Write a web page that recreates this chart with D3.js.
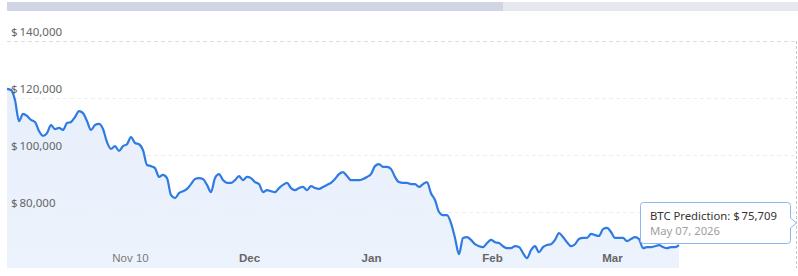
<!DOCTYPE html>
<html>
<head>
<meta charset="utf-8">
<script src="https://cdn.jsdelivr.net/npm/d3@7"></script>
<style>
  body { margin: 0; background: #fff; }
  svg { display: block; font-family: "Noto Sans", "DejaVu Sans", sans-serif; }
  .grid line { stroke: #ededed; stroke-dasharray: 4,3; }
  .grid line.top { stroke: #dcdcdc; }
  .ylabel { font-size: 11.5px; fill: #666; }
  .xaxis text { font-size: 11.5px; fill: #6a6a6a; }
</style>
</head>
<body>
<div id="chart"></div>
<script>
// BTC price, one reading per step along the chart
const prices = [
  123200, 122800, 119300, 111900, 114400, 113700, 112300, 111600, 108400, 106700,
  107700, 110500, 109100, 109500, 108800, 111200, 111600, 113300, 115400, 114700,
  111900, 108800, 110500, 110900, 109100, 104500, 102100, 103100, 101400, 103100,
  103800, 106300, 104200, 103800, 101700, 96500, 96100, 95400, 92300, 93000,
  91900, 85900, 84900, 86600, 87300, 88100, 89800, 91600, 91900, 91600,
  89500, 87000, 91900, 93300, 91200, 90200, 90200, 91200, 92600, 91200,
  92300, 91900, 90500, 89800, 87000, 87700, 87300, 87000, 88400, 89500,
  90200, 88400, 87700, 88400, 88800, 87700, 89100, 88400, 88100, 88800,
  89500, 90200, 91600, 93300, 94000, 92600, 91200, 91200, 91200, 91600,
  92300, 93300, 96100, 96800, 95800, 95800, 95100, 92300, 90500, 90200,
  90200, 89800, 89800, 88800, 89800, 90500, 86600, 84200, 80000, 78900,
  78900, 76100, 70900, 65200, 70900, 71200, 70200, 68700, 68000, 67700,
  69100, 70200, 69400, 69100, 68000, 67300, 67300, 68000, 67700, 65600,
  63800, 66600, 68000, 65900, 67700, 68400, 68700, 70200, 72600, 71200,
  69400, 68000, 68700, 70500, 70900, 70900, 72300, 71900, 71600, 74000,
  74400, 73000, 70900, 70900, 70900, 69800, 70500, 71200, 70500, 67300,
  67700, 67700, 68000, 68400, 67700, 67300, 67700, 67700, 68400
];

const xTickIndex = [30.75, 60.5, 91, 121.25, 151.25];
const xTickLabels = ["Nov 10", "Dec", "Jan", "Feb", "Mar"];
const xTickBold = [false, true, true, true, true];
const yTicks = [80000, 100000, 120000, 140000];

const tipSeries = "BTC Prediction";
const tipValue = 75709;
const tipDate = "May 07, 2026";

const width = 798, height = 276;
const plot = { left: 7, right: 796, top: 41, bottom: 268 };

const svg = d3.select("#chart").append("svg")
    .attr("width", width)
    .attr("height", height);

// navigator scrollbar
svg.append("rect").attr("x", 7).attr("y", 2).attr("width", width - 7).attr("height", 9)
    .attr("fill", "#e6e8f0");
svg.append("rect").attr("x", 7).attr("y", 2).attr("width", 496).attr("height", 9)
    .attr("fill", "#d0d4e3");

const x = d3.scaleLinear()
    .domain([0, prices.length - 1])
    .range([plot.left, 679]);

const y = d3.scaleLinear()
    .domain([60000, 140000])
    .range([269, plot.top]);

const money = v => "$\u2009" + d3.format(",")(v);

// area + line
const defs = svg.append("defs");
const grad = defs.append("linearGradient")
    .attr("id", "fillGrad")
    .attr("x1", 0).attr("y1", 0).attr("x2", 0).attr("y2", 1);
grad.append("stop").attr("offset", "0%").attr("stop-color", "#e7effc");
grad.append("stop").attr("offset", "100%").attr("stop-color", "#edf3fc");

const area = d3.area()
    .x((d, i) => x(i))
    .y0(plot.bottom)
    .y1(d => y(d))
    .curve(d3.curveMonotoneX);

svg.append("path")
    .datum(prices)
    .attr("d", area)
    .attr("fill", "url(#fillGrad)");

// grid lines (over the fill, very faint)
svg.append("g").attr("class", "grid")
    .selectAll("line")
    .data(yTicks)
    .join("line")
    .attr("class", d => d === 140000 ? "top" : null)
    .attr("x1", plot.left)
    .attr("x2", plot.right)
    .attr("y1", d => Math.round(y(d)) + 0.5)
    .attr("y2", d => Math.round(y(d)) + 0.5);

const line = d3.line()
    .x((d, i) => x(i))
    .y(d => y(d))
    .curve(d3.curveMonotoneX);

svg.append("path")
    .datum(prices)
    .attr("d", line)
    .attr("fill", "none")
    .attr("stroke", "#2f7be3")
    .attr("stroke-width", 2.2)
    .attr("stroke-linejoin", "round");

svg.append("g")
    .selectAll("text")
    .data(yTicks)
    .join("text")
    .attr("class", "ylabel")
    .attr("x", 11)
    .attr("y", d => y(d) - 5)
    .text(money);

// x axis labels
const xAxis = d3.axisBottom(x)
    .tickValues(xTickIndex)
    .tickSize(0)
    .tickPadding(0)
    .tickFormat((d, i) => xTickLabels[i]);

const gx = svg.append("g")
    .attr("class", "xaxis")
    .attr("transform", "translate(0,252)")
    .call(xAxis);
gx.select(".domain").remove();
gx.selectAll("text")
    .attr("dy", "0.9em")
    .style("font-weight", (d, i) => xTickBold[i] ? "bold" : "normal")
    .style("fill", (d, i) => xTickBold[i] ? "#666" : "#7a7a7a");

// crosshair
svg.append("line")
    .attr("x1", 796.5).attr("x2", 796.5)
    .attr("y1", plot.top).attr("y2", plot.bottom)
    .attr("stroke", "#c8c8c8")
    .attr("stroke-dasharray", "3,2");

// tooltip
const tip = svg.append("g").attr("transform", "translate(640.5,202.5)");
const tw = 150, th = 41, r = 3;
tip.append("path")
    .attr("d", `M${r},0 H${tw - r} Q${tw},0 ${tw},${r} V${th / 2 - 5} L${tw + 6},${th / 2} L${tw},${th / 2 + 5} V${th - r} Q${tw},${th} ${tw - r},${th} H${r} Q0,${th} 0,${th - r} V${r} Q0,0 ${r},0 Z`)
    .attr("fill", "rgba(255,255,255,0.94)")
    .attr("stroke", "#8fb6ee")
    .attr("stroke-width", 1);
tip.append("text")
    .attr("x", 9.5).attr("y", 17.5)
    .attr("font-size", "11.3px")
    .attr("fill", "#333")
    .text(`${tipSeries}: ${money(tipValue)}`);
tip.append("text")
    .attr("x", 9.5).attr("y", 32)
    .attr("font-size", "11.3px")
    .attr("fill", "#a0a0a0")
    .text(tipDate);
</script>
</body>
</html>
